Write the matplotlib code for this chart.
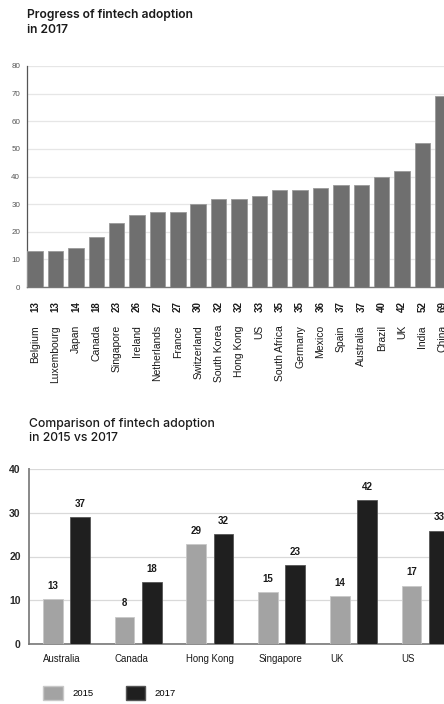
import matplotlib
matplotlib.use('Agg')
import matplotlib.pyplot as plt
from matplotlib.patches import Patch
import numpy as np

# ── Data ──────────────────────────────────────────────────────────────────────
countries_2017 = ['Belgium', 'Luxembourg', 'Japan', 'Canada', 'Singapore', 'Ireland',
                  'Netherlands', 'France', 'Switzerland', 'South Korea', 'Hong Kong',
                  'US', 'South Africa', 'Germany', 'Mexico', 'Spain', 'Australia',
                  'Brazil', 'UK', 'India', 'China']
adoption_2017 = [13, 13, 14, 18, 23, 26, 27, 27, 30, 32, 32, 33, 35, 35, 36, 37, 37,
                 40, 42, 52, 69]

compare_markets = ['Australia', 'Canada', 'Hong Kong', 'Singapore', 'UK', 'US']
compare_2015 = [13, 8, 29, 15, 14, 17]
compare_2017 = [37, 18, 32, 23, 42, 33]
compare_ticks = [0, 10, 20, 30, 40]
# the second chart's bars are drawn on a compressed scale in the original
BAR_SCALE = 0.785

TITLE_FONT = 'Inter'
BODY_FONT = 'Liberation Sans'

W, H = 444, 704
fig = plt.figure(figsize=(W / 100, H / 100), dpi=100)

def frac(x0, y0, x1, y1):
    return [x0 / W, 1 - y1 / H, (x1 - x0) / W, (y1 - y0) / H]

# ── Chart 1: progress of fintech adoption ────────────────────────────────────
fig.text(27 / W, 1 - 9 / H, "Progress of fintech adoption\nin 2017",
         family=TITLE_FONT, fontsize=8.7, fontweight='semibold', color='#1a1a1a',
         ha='left', va='top', linespacing=1.3)

ax1 = fig.add_axes(frac(27, 66, 455, 287))
x1 = np.arange(len(countries_2017))
ax1.bar(x1, adoption_2017, width=0.76, color='#6f6f6f', edgecolor='#9a9a9a',
        linewidth=0.6, zorder=3)
ax1.set_xlim(-0.4, len(countries_2017) - 0.4)
ax1.set_ylim(0, 80)
ax1.set_yticks(range(0, 81, 10))
ax1.set_yticklabels([str(v) for v in range(0, 81, 10)], family=BODY_FONT,
                    fontsize=5.8, color='#555555')
ax1.tick_params(axis='y', length=0, pad=5)
ax1.set_xticks([])
ax1.grid(axis='y', color='#e6e6e6', linewidth=0.9, zorder=0)
for s in ['top', 'right']:
    ax1.spines[s].set_visible(False)
ax1.spines['left'].set_color('#555555')
ax1.spines['left'].set_linewidth(0.9)
ax1.spines['bottom'].set_color('#777777')
ax1.spines['bottom'].set_linewidth(1.0)

tr1 = ax1.get_xaxis_transform()
for xi, (name, v) in enumerate(zip(countries_2017, adoption_2017)):
    ax1.text(xi, -0.09, str(v), transform=tr1, rotation=90, ha='center',
             va='center', family=BODY_FONT, fontsize=7, fontweight='bold',
             color='#1a1a1a', clip_on=False)
    ax1.text(xi, -0.172, name, transform=tr1, rotation=90, ha='center',
             va='top', family=BODY_FONT, fontsize=7.5, color='#1a1a1a',
             clip_on=False)

# ── Chart 2: comparison 2015 vs 2017 ─────────────────────────────────────────
fig.text(29 / W, 1 - 418 / H, "Comparison of fintech adoption\nin 2015 vs 2017",
         family=TITLE_FONT, fontsize=8.8, fontweight='medium', color='#1a1a1a',
         ha='left', va='top', linespacing=1.25)

ax2 = fig.add_axes(frac(29, 469, 461, 644))
x2 = np.arange(len(compare_markets))
off, bw = 0.19, 0.275
v15 = np.array(compare_2015) * BAR_SCALE
v17 = np.array(compare_2017) * BAR_SCALE
ax2.bar(x2 - off, v15, width=bw, color='#a3a3a3', edgecolor='#c8c8c8',
        linewidth=0.6, zorder=3, label='2015')
ax2.bar(x2 + off, v17, width=bw, color='#1f1f1f', edgecolor='#555555',
        linewidth=0.6, zorder=3, label='2017')
for xi, a, b, ha_, hb in zip(x2, compare_2015, compare_2017, v15, v17):
    ax2.annotate(str(a), (xi - off, ha_), xytext=(0, 9.5), textcoords='offset points',
                 ha='center', va='center', family=BODY_FONT, fontsize=7,
                 fontweight='bold', color='#1a1a1a')
    ax2.annotate(str(b), (xi + off, hb), xytext=(0, 9.5), textcoords='offset points',
                 ha='center', va='center', family=BODY_FONT, fontsize=7,
                 fontweight='bold', color='#1a1a1a')

ax2.set_xlim(-0.523, len(compare_markets) - 0.5)
ax2.set_ylim(0, compare_ticks[-1])
ax2.set_yticks(compare_ticks)
ax2.set_yticklabels([str(t) for t in compare_ticks], family=BODY_FONT,
                    fontsize=7.5, fontweight='bold', color='#2a2a2a')
ax2.tick_params(axis='y', length=0, pad=6)
ax2.set_xticks([])
tr2 = ax2.get_xaxis_transform()
for xi, name in zip(x2, compare_markets):
    ax2.text(xi - off - bw / 2, -0.085, name, transform=tr2, ha='left',
             va='center', family=BODY_FONT, fontsize=6.9, color='#1a1a1a',
             clip_on=False)
ax2.grid(axis='y', color='#d9d9d9', linewidth=0.9, zorder=0)
for s in ['top', 'right']:
    ax2.spines[s].set_visible(False)
ax2.spines['left'].set_color('#888888')
ax2.spines['left'].set_linewidth(1.4)
ax2.spines['bottom'].set_color('#777777')
ax2.spines['bottom'].set_linewidth(1.2)

handles = [Patch(facecolor='#a3a3a3', edgecolor='#c8c8c8', label='2015'),
           Patch(facecolor='#1f1f1f', edgecolor='#555555', label='2017')]
leg = fig.legend(handles=handles, loc='upper left',
                 bbox_to_anchor=(43 / W, 1 - 686 / H), ncol=2, frameon=False,
                 borderpad=0, borderaxespad=0, handlelength=2.1,
                 handleheight=1.9, handletextpad=1.0, columnspacing=3.4,
                 prop={'family': BODY_FONT, 'size': 6.8})

fig.savefig('out.png', dpi=100)
